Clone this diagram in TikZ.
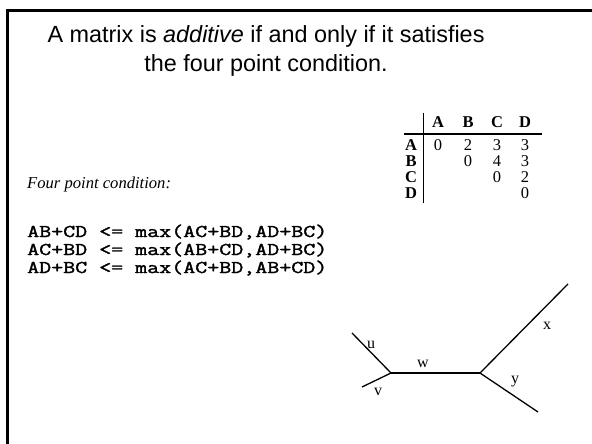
\documentclass[tikz,border=0pt]{standalone}
\usepackage{fontspec}
\setmainfont{Liberation Serif}
\newfontfamily\slidefont{Liberation Sans}
\newfontfamily\condfont[FakeBold=1.8,FakeStretch=1.295]{Latin Modern Mono}
\usepackage{tikz}
\usetikzlibrary{positioning}

\begin{document}
\begin{tikzpicture}[
  x=1pt, y=-1pt,
  title/.style={anchor=base, inner sep=0pt, font=\slidefont\fontsize{23.4}{29}\selectfont},
  note/.style={anchor=base west, inner sep=0pt, font=\itshape\fontsize{16.6}{18}\selectfont},
  cond/.style={anchor=base west, inner sep=0pt, text height=10pt, text depth=3pt, font=\condfont\fontsize{18}{18}\selectfont},
  cell/.style={anchor=base, inner sep=0pt, font=\fontsize{16.5}{18}\selectfont},
  hcell/.style={cell, font=\bfseries\fontsize{16.5}{18}\selectfont},
  leaf/.style={inner sep=0pt, font=\fontsize{16}{18}\selectfont},
  rule/.style={line width=1.3pt},
  edge/.style={line width=1.3pt}
]
  \useasboundingbox (0,0) rectangle (592,444);

  % Slide frame (runs off the page on the right and bottom)
  \draw[line width=2.6pt] (7.3,460) -- (7.3,10.3) -- (610,10.3);

  % Title
  \node[title] (title1) at (266,43) {A matrix is \textit{additive} if and only if it satisfies};
  \node[title] (title2) at (266,72) {the four point condition.};

  % Distance matrix
  \node[hcell] (hA) at (438,127) {A};
  \node[hcell] (hB) at (468,127) {B};
  \node[hcell] (hC) at (497,127) {C};
  \node[hcell] (hD) at (525,127) {D};
  \node[hcell] (rA) at (411,150) {A};
  \node[hcell] (rB) at (411,166) {B};
  \node[hcell] (rC) at (411,182) {C};
  \node[hcell] (rD) at (411,198) {D};
  \node[cell] (aa) at (438,150) {0};
  \node[cell] (ab) at (468,150) {2};
  \node[cell] (ac) at (497,150) {3};
  \node[cell] (ad) at (525,150) {3};
  \node[cell] (bb) at (468,166) {0};
  \node[cell] (bc) at (497,166) {4};
  \node[cell] (bd) at (525,166) {3};
  \node[cell] (cc) at (497,182) {0};
  \node[cell] (cd) at (525,182) {2};
  \node[cell] (dd) at (525,198) {0};
  \draw[rule] (404,134) -- (542,134);
  \draw[rule] (423.5,113) -- (423.5,203);

  % Four point condition
  \node[note] (fpc) at (27,188) {Four point condition:};
  \node[cond] (c1) at (27,237) {AB+CD <= max(AC+BD,AD+BC)};
  \node[cond] (c2) at (27,255) {AC+BD <= max(AB+CD,AD+BC)};
  \node[cond] (c3) at (27,273) {AD+BC <= max(AC+BD,AB+CD)};

  % Tree
  \coordinate (j1) at (391,373);
  \coordinate (j2) at (480,373);
  \coordinate (eu) at (352,333);
  \coordinate (ev) at (362,387);
  \coordinate (ex) at (568,284);
  \coordinate (ey) at (538,412);
  \draw[edge] (eu) -- (j1) -- (ev);
  \draw[edge] (j1) -- (j2);
  \draw[edge] (ex) -- (j2) -- (ey);
  \node[leaf] (lu) at (371,345) {u};
  \node[leaf] (lv) at (378,392) {v};
  \node[leaf] (lw) at (423,364) {w};
  \node[leaf] (lx) at (547,326) {x};
  \node[leaf] (ly) at (515,382) {y};
\end{tikzpicture}
\end{document}
